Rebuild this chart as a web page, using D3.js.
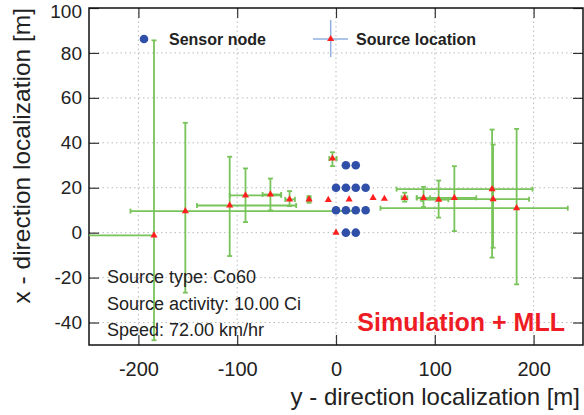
<!DOCTYPE html>
<html lang="en">
<head>
<meta charset="UTF-8">
<title>Source localization</title>
<script src="https://d3js.org/d3.v7.min.js"></script>
<style>
  body { margin: 0; background: #fff; font-family: "Liberation Sans", Arial, sans-serif; }
  svg { display: block; }
</style>
</head>
<body>
<div id="chart"></div>
<script>
// sensor nodes (horizontal = y-direction, vertical = x-direction)
const sensorY = [10, 20, 0, 10, 20, 30, 0, 10, 20, 30, 10, 20];
const sensorX = [30, 30, 20, 20, 20, 20, 10, 10, 10, 10, 0, 0];

// reconstructed source locations with asymmetric errors
const srcY  = [-184.2, -152.5, -107.6, -91.6, -66.4, -47, -27.3, -7.8, -3.6, 0, 13.3, 37.5, 49, 69.5, 88.6, 103.9, 119.8, 158, 159, 182.8];
const srcX  = [-1.2, 9.6, 12.1, 16.6, 17, 14.8, 14.8, 14.6, 33, 0, 14.8, 15.5, 15.1, 15.5, 15.5, 14.7, 15.5, 19.4, 14.9, 10.9];
const yLow  = [-262, -208, -140.7, -107.6, -74.3, -51.4, -29, -7.8, -6.8, 0, 13.3, 37.5, 49, 66.4, 81.7, 87.5, 81.7, 61.3, 85.8, 45];
const yHigh = [-184.2, 17.4, -40.3, -55.5, -55.5, -41.6, -25.6, -7.8, 0.7, 0, 13.3, 37.5, 49, 72.2, 95.3, 113.7, 142, 198.9, 195.4, 234.6];
const xLow  = [-47.9, -26.7, -10.4, 4.7, 9.9, 11.8, 13.3, 14.6, 29.6, 0, 14.8, 15.5, 15.1, 13.8, 11.4, 6.7, 0.7, -11.1, -6.7, -23];
const xHigh = [85.6, 48.9, 33.8, 28.6, 24.1, 18.5, 16.3, 14.6, 35.8, 0, 14.8, 15.5, 15.1, 17.8, 20.4, 23.2, 29.6, 45.9, 39.2, 46.2];

const xTicks = [-200, -100, 0, 100, 200];
const yTicks = [-40, -20, 0, 20, 40, 60, 80, 100];
const infoLines = ["Source type: Co60", "Source activity: 10.00 Ci", "Speed: 72.00 km/hr"];

const W = 584, H = 415;
const margin = {top: 8, right: 1, bottom: 70, left: 89};
const width = W - margin.left - margin.right;
const height = H - margin.top - margin.bottom;

const svg = d3.select("#chart").append("svg")
    .attr("width", W).attr("height", H);

const g = svg.append("g")
    .attr("transform", "translate(" + margin.left + "," + margin.top + ")");

const x = d3.scaleLinear().domain([-250, 250]).range([0, width]);
const y = d3.scaleLinear().domain([-50, 100]).range([height, 0]);

g.append("clipPath").attr("id", "frame")
  .append("rect").attr("width", width).attr("height", height);

// dotted grid at major ticks
const grid = g.append("g").attr("stroke", "#bbb").attr("stroke-dasharray", "1.5,3").attr("stroke-width", 1);
xTicks.forEach(t => grid.append("line").attr("x1", x(t)).attr("x2", x(t)).attr("y1", 0).attr("y2", height));
yTicks.filter(t => t < 100).forEach(t => grid.append("line").attr("y1", y(t)).attr("y2", y(t)).attr("x1", 0).attr("x2", width));

// axes with ROOT-like ticks on all four sides
const xMinor = d3.range(-240, 250, 20).filter(v => v % 100 !== 0);
const yMinor = d3.range(-45, 100, 5).filter(v => v % 20 !== 0);
function tickAxis(axisFn, scale, major, minor, transform) {
  const ga = g.append("g").attr("transform", transform);
  ga.call(axisFn(scale).tickValues(minor).tickSize(5).tickFormat(""));
  ga.call(axisFn(scale).tickValues(major).tickSize(10).tickFormat(""));
  ga.selectAll(".domain").remove();
  ga.selectAll("line").attr("stroke", "#333").attr("stroke-width", 1.2);
  return ga;
}
tickAxis(d3.axisTop, x, xTicks, xMinor, "translate(0," + height + ")");
tickAxis(d3.axisBottom, x, xTicks, xMinor, "translate(0,0)");
tickAxis(d3.axisRight, y, yTicks, yMinor, "translate(0,0)");
tickAxis(d3.axisLeft, y, yTicks, yMinor, "translate(" + width + ",0)");

// tick labels (plain hyphen for negatives, as in the original)
const fmt = d => String(d);
g.append("g").attr("transform", "translate(0," + height + ")")
  .call(d3.axisBottom(x).tickValues(xTicks).tickSize(0).tickPadding(17).tickFormat(fmt))
  .call(a => a.select(".domain").remove())
  .selectAll("text").attr("font-size", 20).attr("fill", "#222")
  .attr("font-family", "Liberation Sans, Arial, sans-serif");
g.append("g")
  .call(d3.axisLeft(y).tickValues(yTicks).tickSize(0).tickPadding(7).tickFormat(fmt))
  .call(a => a.select(".domain").remove())
  .selectAll("text").attr("font-size", 19).attr("fill", "#222")
  .attr("font-family", "Liberation Sans, Arial, sans-serif")
  .attr("dy", d => d === 100 ? "0.5em" : "0.32em");

// frame
g.append("rect").attr("width", width).attr("height", height)
  .attr("fill", "none").attr("stroke", "#111").attr("stroke-width", 1.5);

// error bars
const plot = g.append("g").attr("clip-path", "url(#frame)");
const green = "#78c45a";
const cap = 2.5;
srcY.forEach((sy, i) => {
  const px = x(sy), py = y(srcX[i]);
  const eb = plot.append("g").attr("stroke", green).attr("stroke-width", 1.8);
  if (yLow[i] !== yHigh[i]) {
    eb.append("line").attr("x1", x(yLow[i])).attr("x2", x(yHigh[i])).attr("y1", py).attr("y2", py);
    [yLow[i], yHigh[i]].filter(v => v !== sy).forEach(v =>
      eb.append("line").attr("x1", x(v)).attr("x2", x(v)).attr("y1", py - cap).attr("y2", py + cap));
  }
  if (xLow[i] !== xHigh[i]) {
    eb.append("line").attr("x1", px).attr("x2", px).attr("y1", y(xLow[i])).attr("y2", y(xHigh[i]));
    [xLow[i], xHigh[i]].filter(v => v !== srcX[i]).forEach(v =>
      eb.append("line").attr("y1", y(v)).attr("y2", y(v)).attr("x1", px - cap).attr("x2", px + cap));
  }
});

// sensor nodes
plot.selectAll(".sensor").data(sensorY).enter().append("circle")
  .attr("class", "sensor")
  .attr("cx", d => x(d)).attr("cy", (d, i) => y(sensorX[i]))
  .attr("r", 4.3).attr("fill", "#2f4fa8");

// source markers
const tri = d3.symbol().type(d3.symbolTriangle).size(22);
plot.selectAll(".src").data(srcY).enter().append("path")
  .attr("class", "src").attr("d", tri)
  .attr("transform", (d, i) => "translate(" + x(d) + "," + y(srcX[i]) + ")")
  .attr("fill", "#ff1f1f");

// legend
const lg = svg.append("g");
lg.append("circle").attr("cx", 144).attr("cy", 39).attr("r", 4.3).attr("fill", "#2f4fa8");
lg.append("text").attr("x", 169).attr("y", 45).text("Sensor node")
  .attr("font-size", 16).attr("font-weight", "bold").attr("fill", "#222");
lg.append("line").attr("x1", 313).attr("x2", 348).attr("y1", 39).attr("y2", 39)
  .attr("stroke", "#8fb0e0").attr("stroke-width", 1.5);
lg.append("line").attr("x1", 330.7).attr("x2", 330.7).attr("y1", 20).attr("y2", 57)
  .attr("stroke", "#8fb0e0").attr("stroke-width", 1.5);
lg.append("path").attr("d", tri).attr("transform", "translate(330.7,39)").attr("fill", "#ff1f1f");
lg.append("text").attr("x", 356).attr("y", 45).text("Source location")
  .attr("font-size", 16).attr("font-weight", "bold").attr("fill", "#222");

// info text
svg.selectAll(".info").data(infoLines).enter().append("text")
  .attr("class", "info")
  .attr("x", 107).attr("y", (d, i) => 283 + i * 26.5)
  .attr("font-size", 18).attr("fill", "#222")
  .text(d => d);

svg.append("text").attr("x", 565).attr("y", 331).attr("text-anchor", "end")
  .attr("font-size", 25).attr("font-weight", "bold").attr("fill", "#ee1c25")
  .text("Simulation + MLL");

// axis titles
svg.append("text").attr("x", 580).attr("y", 405).attr("text-anchor", "end")
  .attr("font-size", 24).attr("fill", "#222")
  .text("y - direction localization [m]");
svg.append("text").attr("transform", "translate(30,8) rotate(-90)")
  .attr("text-anchor", "end")
  .attr("font-size", 24.5).attr("fill", "#222")
  .text("x - direction localization [m]");
</script>
</body>
</html>
